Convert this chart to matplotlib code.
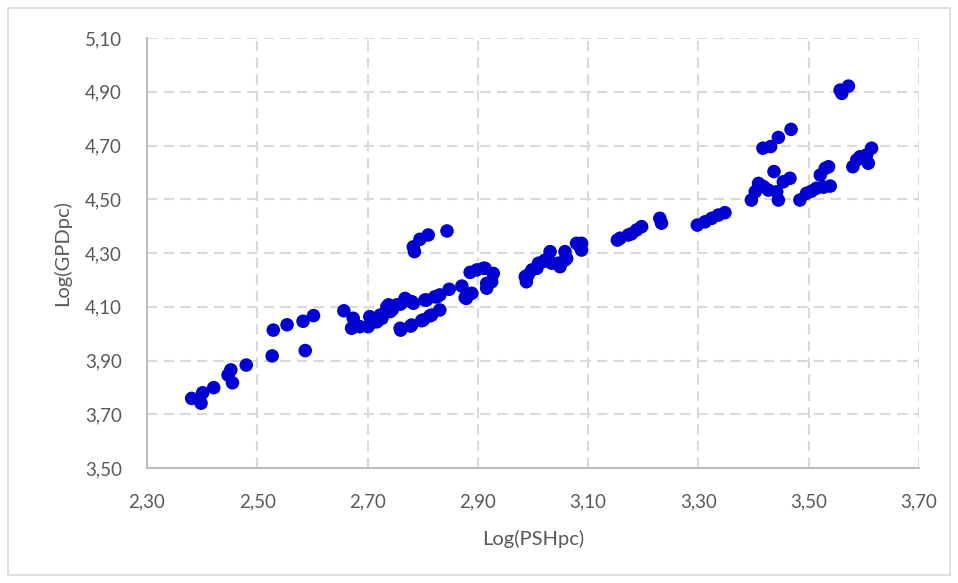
import numpy as np
import matplotlib.pyplot as plt
from matplotlib.ticker import FuncFormatter
from matplotlib.patches import Rectangle

# Log(PSHpc) vs Log(GPDpc)
log_pshpc = [
    2.381, 2.401, 2.398, 2.421, 2.447, 2.452, 2.455, 2.480, 2.527, 2.529,
    2.554, 2.583, 2.602, 2.587, 2.657, 2.674, 2.671, 2.686, 2.704, 2.701,
    2.717, 2.723, 2.735, 2.741, 2.753, 2.768, 2.780, 2.759, 2.780, 2.801,
    2.804, 2.822, 2.816, 2.831, 2.726, 2.738, 2.771, 2.783, 2.807, 2.826,
    2.813, 2.798, 2.778, 2.760, 2.783, 2.785, 2.795, 2.810, 2.844, 2.831,
    2.848, 2.871, 2.877, 2.889, 2.879, 2.886, 2.898, 2.910, 2.928, 2.916,
    2.916, 2.925, 2.913, 2.988, 2.991, 2.986, 2.998, 3.007, 3.010, 3.019,
    3.022, 3.031, 3.034, 3.046, 3.049, 3.058, 3.058, 3.061, 3.079, 3.088,
    3.088, 3.085, 3.153, 3.158, 3.173, 3.179, 3.188, 3.197, 3.230, 3.233,
    3.298, 3.312, 3.324, 3.336, 3.348, 3.396, 3.403, 3.409, 3.418, 3.427,
    3.437, 3.445, 3.442, 3.454, 3.466, 3.417, 3.431, 3.445, 3.468, 3.484,
    3.496, 3.514, 3.539, 3.521, 3.530, 3.536, 3.557, 3.560, 3.572, 3.580,
    3.587, 3.593, 3.605, 3.614, 3.608, 2.707, 2.745, 2.760, 3.505, 3.527,
]
log_gdppc = [
    3.759, 3.780, 3.741, 3.799, 3.846, 3.865, 3.817, 3.883, 3.917, 4.013,
    4.033, 4.046, 4.067, 3.937, 4.085, 4.057, 4.020, 4.026, 4.063, 4.026,
    4.044, 4.069, 4.100, 4.082, 4.107, 4.131, 4.119, 4.020, 4.032, 4.051,
    4.125, 4.137, 4.069, 4.088, 4.057, 4.107, 4.125, 4.113, 4.125, 4.137,
    4.066, 4.048, 4.028, 4.013, 4.323, 4.305, 4.351, 4.367, 4.382, 4.144,
    4.165, 4.177, 4.134, 4.150, 4.131, 4.228, 4.237, 4.243, 4.224, 4.187,
    4.169, 4.193, 4.243, 4.193, 4.218, 4.212, 4.237, 4.243, 4.262, 4.268,
    4.274, 4.305, 4.262, 4.262, 4.249, 4.305, 4.274, 4.280, 4.336, 4.311,
    4.336, 4.325, 4.348, 4.355, 4.367, 4.372, 4.386, 4.398, 4.429, 4.411,
    4.404, 4.416, 4.429, 4.441, 4.450, 4.497, 4.528, 4.559, 4.547, 4.534,
    4.603, 4.497, 4.528, 4.565, 4.578, 4.690, 4.696, 4.730, 4.760, 4.497,
    4.522, 4.541, 4.549, 4.590, 4.615, 4.621, 4.906, 4.894, 4.921, 4.621,
    4.646, 4.658, 4.665, 4.690, 4.634, 4.040, 4.090, 4.110, 4.530, 4.545,
]

x_ticks = [2.30, 2.50, 2.70, 2.90, 3.10, 3.30, 3.50, 3.70]
y_ticks = [3.50, 3.70, 3.90, 4.10, 4.30, 4.50, 4.70, 4.90, 5.10]

fig = plt.figure(figsize=(9.58, 5.83), dpi=100)
plt.rcParams['font.family'] = ['Lato', 'DejaVu Sans']

# light outer chart border
fig.patches.append(Rectangle((8 / 958, 8 / 583), 942 / 958, 567 / 583,
                             transform=fig.transFigure, fill=False,
                             edgecolor='#D9D9D9', linewidth=1.2))

ax = fig.add_axes([147 / 958, 1 - 468 / 583, 772 / 958, 430 / 583])
ax.scatter(log_pshpc, log_gdppc, s=95, color='#0000D0', edgecolors='none', zorder=3)

ax.set_xlim(x_ticks[0], x_ticks[-1])
ax.set_ylim(y_ticks[0], y_ticks[-1])
ax.set_xticks(x_ticks)
ax.set_yticks(y_ticks)
comma = FuncFormatter(lambda v, pos: f"{v:.2f}".replace('.', ','))
ax.xaxis.set_major_formatter(comma)
ax.yaxis.set_major_formatter(comma)

ax.grid(True, color='#D9D9D9', linestyle=(0, (5, 3)), linewidth=1.5, zorder=0)
ax.set_axisbelow(True)
for side in ['top', 'right']:
    ax.spines[side].set_visible(False)
for side in ['left', 'bottom']:
    ax.spines[side].set_color('#BFBFBF')
    ax.spines[side].set_linewidth(1.5)

ax.tick_params(length=0, labelsize=13.5, labelcolor='#595959')
ax.tick_params(axis='y', pad=18)
ax.tick_params(axis='x', pad=18)

ax.set_xlabel('Log(PSHpc)', fontsize=14.5, color='#595959', labelpad=14)
ax.set_ylabel('Log(GPDpc)', fontsize=14.5, color='#595959', labelpad=10)

fig.savefig('out.png', dpi=100)
